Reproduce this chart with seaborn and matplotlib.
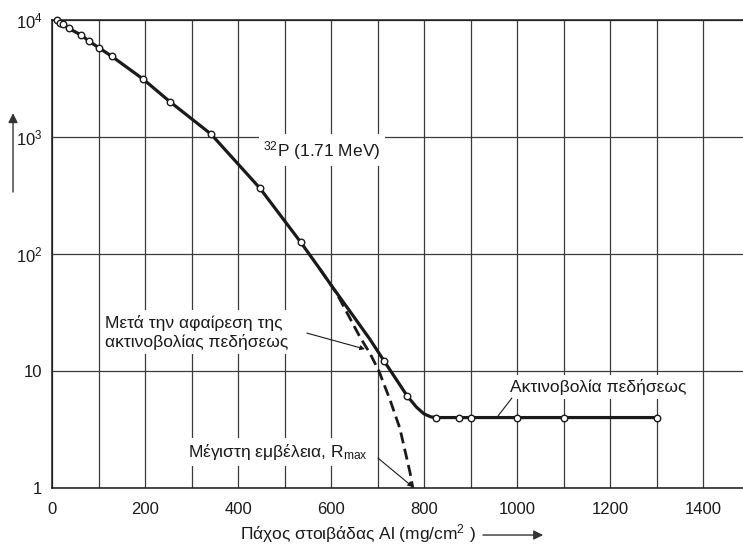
import matplotlib
matplotlib.use("Agg")
import matplotlib.pyplot as plt
from matplotlib.ticker import NullLocator, MultipleLocator, FixedLocator
import seaborn as sns

# values
# solid curve: measured counts (x in mg/cm^2 of Al)
curve_x = [10, 17, 24, 36, 63, 80, 101, 128, 196, 254, 342, 447, 535, 576, 605,
           648, 684, 714, 741, 764, 784, 800, 815, 830, 1000, 1300]
curve_y = [10000, 9490, 9240, 8490, 7450, 6580, 5800, 4920, 3130, 2000, 1060, 366, 126, 74.5, 51,
           29.5, 18.6, 12.2, 8.4, 6.1, 4.9, 4.3, 4.05, 4.0, 4.0, 4.0]

# measured points (open circles)
point_x = [10, 17, 24, 36, 63, 80, 101, 128, 196, 254, 342, 447, 535, 714, 764,
           825, 875, 900, 1000, 1100, 1300]
point_y = [10000, 9490, 9240, 8490, 7450, 6580, 5800, 4920, 3130, 2000, 1060, 366, 126, 12.2, 6.1,
           4.0, 4.0, 4.0, 4.0, 4.0, 4.0]

# dashed curve: after subtracting bremsstrahlung
dash_x = [576, 605, 619, 662, 684, 703, 727, 748, 762, 770, 776]
dash_y = [74.5, 51, 41, 19.6, 14.1, 10, 5.65, 3.24, 1.86, 1.35, 1.0]

x_ticks = [0, 200, 400, 600, 800, 1000, 1200, 1400]
y_ticks = [1, 10, 100, 1000, 10000]
y_tick_labels = ["1", "10", "$10^2$", "$10^3$", "$10^4$"]

sns.set_style("white")
plt.rcParams["font.family"] = ["Liberation Sans", "DejaVu Sans"]
plt.rcParams["mathtext.fontset"] = "custom"
plt.rcParams["mathtext.rm"] = "Liberation Sans"
plt.rcParams["mathtext.it"] = "Liberation Sans:italic"
plt.rcParams["mathtext.bf"] = "Liberation Sans:bold"
plt.rcParams["mathtext.default"] = "regular"

ink = "#1a1a1a"
grid_c = "#3a3a3a"

fig = plt.figure(figsize=(7.43, 5.44), dpi=100)
ax = fig.add_axes([0.070, 0.103, 0.930, 0.860])
ax.set_yscale("log")

sns.lineplot(x=curve_x, y=curve_y, ax=ax, color=ink, linewidth=2.3,
             sort=False, estimator=None, zorder=3)
sns.lineplot(x=dash_x, y=dash_y, ax=ax, color=ink, linewidth=2.0,
             sort=False, estimator=None, linestyle=(0, (4, 2)), zorder=3)
sns.scatterplot(x=point_x, y=point_y, ax=ax, marker="o", s=22, facecolor="white",
                edgecolor=ink, linewidth=1.0, zorder=5, clip_on=False)

ax.set_xlim(0, 1486)
ax.set_ylim(1, 10000)

ax.xaxis.set_major_locator(FixedLocator(x_ticks))
ax.xaxis.set_minor_locator(MultipleLocator(100))
ax.set_yticks(y_ticks)
ax.set_yticklabels(y_tick_labels)
ax.yaxis.set_minor_locator(NullLocator())

ax.grid(which="major", axis="both", color=grid_c, linewidth=0.9)
ax.grid(which="minor", axis="x", color=grid_c, linewidth=0.9)
ax.set_axisbelow(True)

ax.tick_params(axis="x", which="major", length=3, width=1, direction="out",
               pad=7, labelsize=12, colors=ink)
ax.tick_params(axis="x", which="minor", length=0)
ax.tick_params(axis="y", which="major", length=4, width=1, direction="out",
               pad=3, labelsize=12, colors=ink)

for side in ["left", "bottom", "top"]:
    ax.spines[side].set_color(ink)
    ax.spines[side].set_linewidth(1.1)
ax.spines["right"].set_visible(False)

box = dict(facecolor="white", edgecolor="none", pad=3)

ax.text(454, 774, "$^{32}$P (1.71 MeV)", fontsize=12.5, ha="left", va="center",
        color=ink, bbox=box, zorder=4)
ax.text(114, 21.5, "Μετά την αφαίρεση της\nακτινοβολίας πεδήσεως", fontsize=12.5,
        ha="left", va="center", linespacing=1.25, color=ink, bbox=box, zorder=4)
ax.text(985, 7.3, "Ακτινοβολία πεδήσεως", fontsize=12.5, ha="left", va="center",
        color=ink, bbox=box, zorder=4)
ax.text(292, 2.03, "Μέγιστη εμβέλεια, R$_{max}$", fontsize=12.5, ha="left", va="center",
        color=ink, bbox=box, zorder=4)

pointer = dict(arrowstyle="-|>", color=ink, lw=0.8, mutation_scale=7,
               shrinkA=0, shrinkB=0)
ax.annotate("", xy=(673, 15.4), xytext=(548, 21.1), arrowprops=pointer, zorder=4)
ax.annotate("", xy=(776, 1.02), xytext=(701, 1.8), arrowprops=pointer, zorder=4)
ax.annotate("", xy=(959, 4.12), xytext=(989, 5.87),
            arrowprops=dict(arrowstyle="-", color=ink, lw=0.8, shrinkA=0, shrinkB=0), zorder=4)

# axis labels: an upward arrow for y, text plus arrow for x
ax.annotate("", xy=(0.0175, 0.792), xycoords="figure fraction",
            xytext=(0.0175, 0.647), textcoords="figure fraction",
            arrowprops=dict(arrowstyle="-|>", color="#333333", lw=1.0,
                            mutation_scale=14, shrinkA=0, shrinkB=0))
fig.text(0.323, 0.020, "Πάχος στοιβάδας Al (mg/cm$^2$ )", fontsize=12.5,
         ha="left", va="center", color=ink)
ax.annotate("", xy=(0.731, 0.0165), xycoords="figure fraction",
            xytext=(0.650, 0.0165), textcoords="figure fraction",
            arrowprops=dict(arrowstyle="-|>", color="#333333", lw=1.0,
                            mutation_scale=14, shrinkA=0, shrinkB=0))

fig.savefig("out.png", dpi=100)
